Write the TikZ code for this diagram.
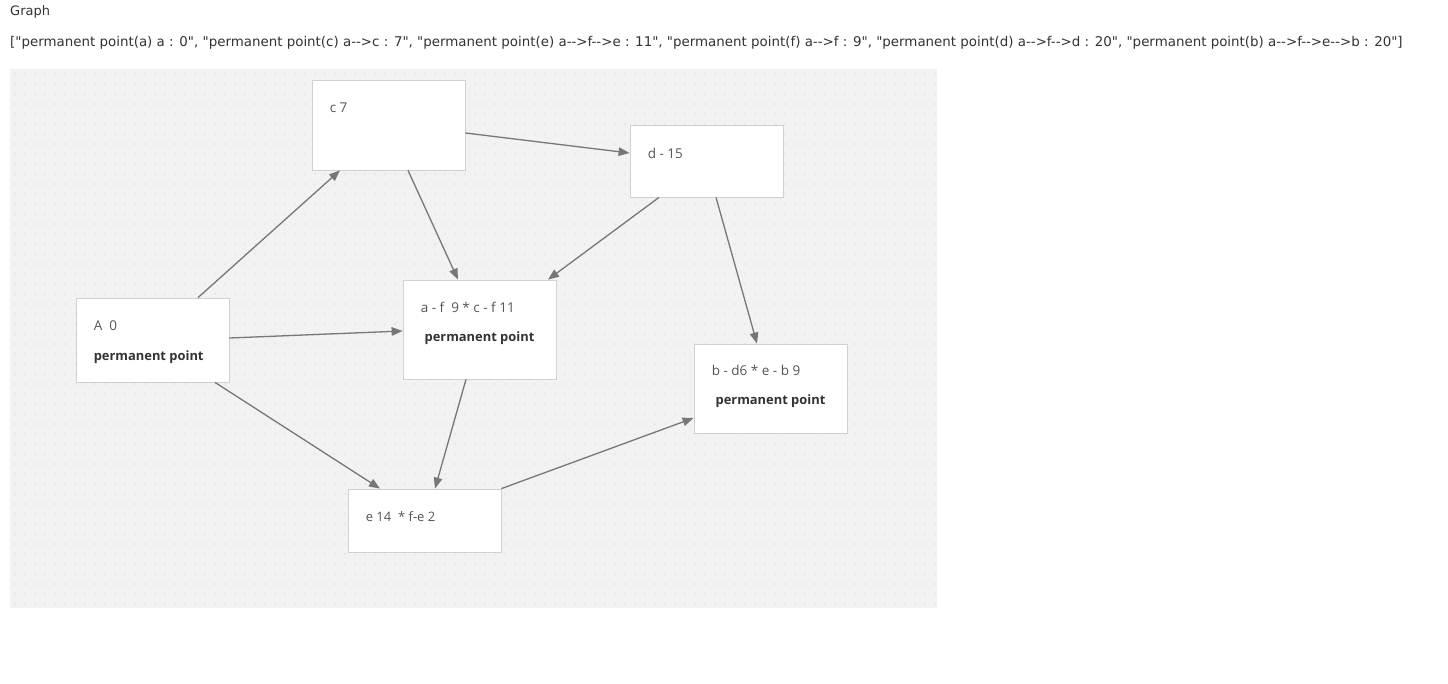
\documentclass[tikz,border=0pt]{standalone}
\usepackage{fontspec}
\setmainfont{Open Sans}
\newfontfamily\headfont{DejaVu Sans}
\usetikzlibrary{arrows.meta}
\definecolor{canvasgray}{HTML}{F2F2F2}
\definecolor{dotgray}{HTML}{DEDEDE}
\definecolor{boxline}{HTML}{D0D0D0}
\definecolor{edgegray}{HTML}{777777}
\definecolor{labelgray}{HTML}{555555}
\definecolor{boldgray}{HTML}{333333}
\begin{document}
\begin{tikzpicture}[x=1pt,y=-1pt,
		point/.style={draw=boxline,fill=white,line width=0.8pt,minimum width=153pt,inner sep=0pt},
		lbl/.style={anchor=west,inner sep=0pt,text=labelgray,font=\fontsize{13.5}{15}\selectfont},
		perm/.style={inner sep=0pt,text=boldgray,font=\fontsize{12.9}{15}\selectfont\bfseries},
		road/.style={draw=edgegray,line width=1.3pt,-{Triangle[length=11pt,width=8.5pt]}}]
		\useasboundingbox[fill=white] (0,0) rectangle (1448,683);
		% header
		\node[anchor=west,inner sep=0pt,text=boldgray,font=\headfont\fontsize{13}{15}\selectfont] (title) at (10,12) {Graph};
		\node[anchor=west,inner sep=0pt,text=boldgray,font=\headfont\fontsize{13.4}{15}\selectfont] (result) at (10,43)
			{["permanent point(a) a : 0", "permanent point(c) a-->c : 7", "permanent point(e) a-->f-->e : 11", "permanent point(f) a-->f : 9", "permanent point(d) a-->f-->d : 20", "permanent point(b) a-->f-->e-->b : 20"]};
		% canvas
		\fill[canvasgray] (10,69) rectangle (937,608);
		\foreach \x in {15,25,...,935}
			\foreach \y in {74,84,...,604}
				\fill[dotgray] (\x,\y) circle (0.8pt);
		% points
		\node[point,minimum height=84pt] (A) at (152.5,340) {};
		\node[point,minimum height=90pt] (c) at (388.5,125) {};
		\node[point,minimum height=72pt] (d) at (706.5,161) {};
		\node[point,minimum height=99pt] (f) at (479.5,329.5) {};
		\node[point,minimum height=89pt] (b) at (770.5,388.5) {};
		\node[point,minimum height=63pt] (e) at (424.5,520.5) {};
		% labels
		\node[lbl] (A-name) at ([shift={(18pt,-28pt)}]A.north west) {A\ \ 0};
		\node[perm,anchor=west] (A-perm) at ([shift={(18pt,-60pt)}]A.north west) {permanent point};
		\node[lbl] (c-name) at ([shift={(18pt,-28pt)}]c.north west) {c\ 7};
		\node[lbl] (d-name) at ([shift={(18pt,-29pt)}]d.north west) {d - 15};
		\node[lbl] (f-name) at ([shift={(18pt,-28pt)}]f.north west) {a - f\ \ 9 * c - f 11};
		\node[perm] (f-perm) at ([yshift=-59pt]f.north) {permanent point};
		\node[lbl] (b-name) at ([shift={(18pt,-27pt)}]b.north west) {b - d6 * e - b\ 9};
		\node[perm] (b-perm) at ([yshift=-58pt]b.north) {permanent point};
		\node[lbl,font=\fontsize{13}{15}\selectfont] (e-name) at ([shift={(18pt,-28pt)}]e.north west) {e 14\ \ * f-e 2};
		% roads
		\draw[road] ([xshift=45.5pt]A.north) -- ([xshift=-48.5pt]c.south);
		\draw[road] ([yshift=2pt]A.east) -- ([yshift=-1.5pt]f.west);
		\draw[road] ([xshift=62.5pt]A.south) -- ([xshift=-44.5pt]e.north);
		\draw[road] ([yshift=-8pt]c.east) -- ([yshift=8pt]d.west);
		\draw[road] ([xshift=19.5pt]c.south) -- ([xshift=-21.5pt]f.north);
		\draw[road] ([xshift=-47.5pt]d.south) -- ([xshift=68.5pt]f.north);
		\draw[road] ([xshift=9.5pt]d.south) -- ([xshift=-13.5pt]b.north);
		\draw[road] ([xshift=-13.5pt]f.south) -- ([xshift=10.5pt]e.north);
		\draw[road] (e.north east) -- ([yshift=-29.5pt]b.west);
\end{tikzpicture}
\end{document}
